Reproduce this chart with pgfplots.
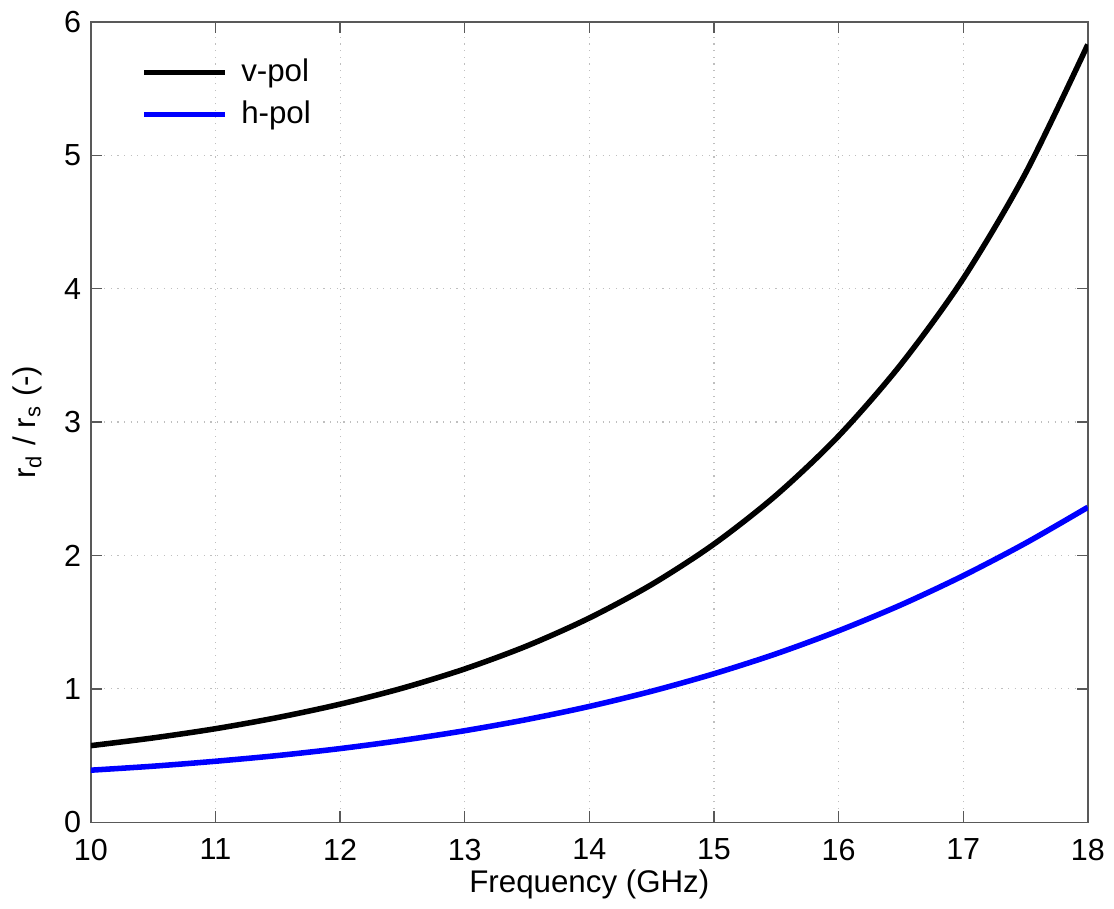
\documentclass[border=0pt]{standalone}
\usepackage{pgfplots}
\pgfplotsset{compat=1.18}
\usepackage{fontspec}
\setmainfont{Liberation Sans}
\begin{document}
\begin{tikzpicture}
\begin{axis}[
  scale only axis,
  width=360pt, height=289pt,
  xmin=10, xmax=18, ymin=0, ymax=6,
  xtick={10,...,18}, ytick={0,...,6},
  /pgf/number format/assume math mode=true,
  tick label style={font=\fontsize{11}{13}\selectfont},
  xticklabel style={yshift=-2.5pt},
  label style={font=\fontsize{11.3}{13}\selectfont},
  xlabel={Frequency (GHz)},
  ylabel={r\textsubscript{d} / r\textsubscript{s} (-)},
  xlabel style={yshift=3.5pt},
  ylabel style={yshift=1pt},
  tick align=inside,
  major tick length=4pt,
  axis line style={draw=black!65, line width=0.5pt},
  every tick/.style={black!65, line width=0.5pt},
  grid=major,
  major grid style={black!25, dotted, line width=0.4pt},
  legend style={draw=none, fill=none, at={(0.042,0.968)}, anchor=north west,
    font=\fontsize{11.3}{13}\selectfont, row sep=1.5pt},
  legend cell align=left,
  legend image code/.code={\draw[#1] (0pt,0pt) -- (29pt,0pt);},
]
\addplot[black, line width=2pt, smooth] coordinates {
(10,0.574) (10.5,0.632) (11,0.701) (11.5,0.785) (12,0.885) (12.5,1.005)
(13,1.149) (13.5,1.322) (14,1.531) (14.5,1.782) (15,2.085) (15.5,2.452)
(16,2.895) (16.5,3.432) (17,4.075) (17.5,4.865) (18,5.83)};
\addlegendentry{\hspace{3pt}v-pol}
\addplot[blue, line width=2pt, smooth] coordinates {
(10,0.390) (10.5,0.420) (11,0.457) (11.5,0.500) (12,0.552) (12.5,0.614)
(13,0.686) (13.5,0.770) (14,0.868) (14.5,0.982) (15,1.113) (15.5,1.263)
(16,1.435) (16.5,1.629) (17,1.848) (17.5,2.092) (18,2.361)};
\addlegendentry{\hspace{3pt}h-pol}
\end{axis}
\path (current axis.south west) ++(-32.8pt,-29.2pt) coordinate (bl);
\path (current axis.north east) ++(8.6pt,7.9pt) coordinate (tr);
\path (bl) rectangle (tr);
\end{tikzpicture}
\end{document}
